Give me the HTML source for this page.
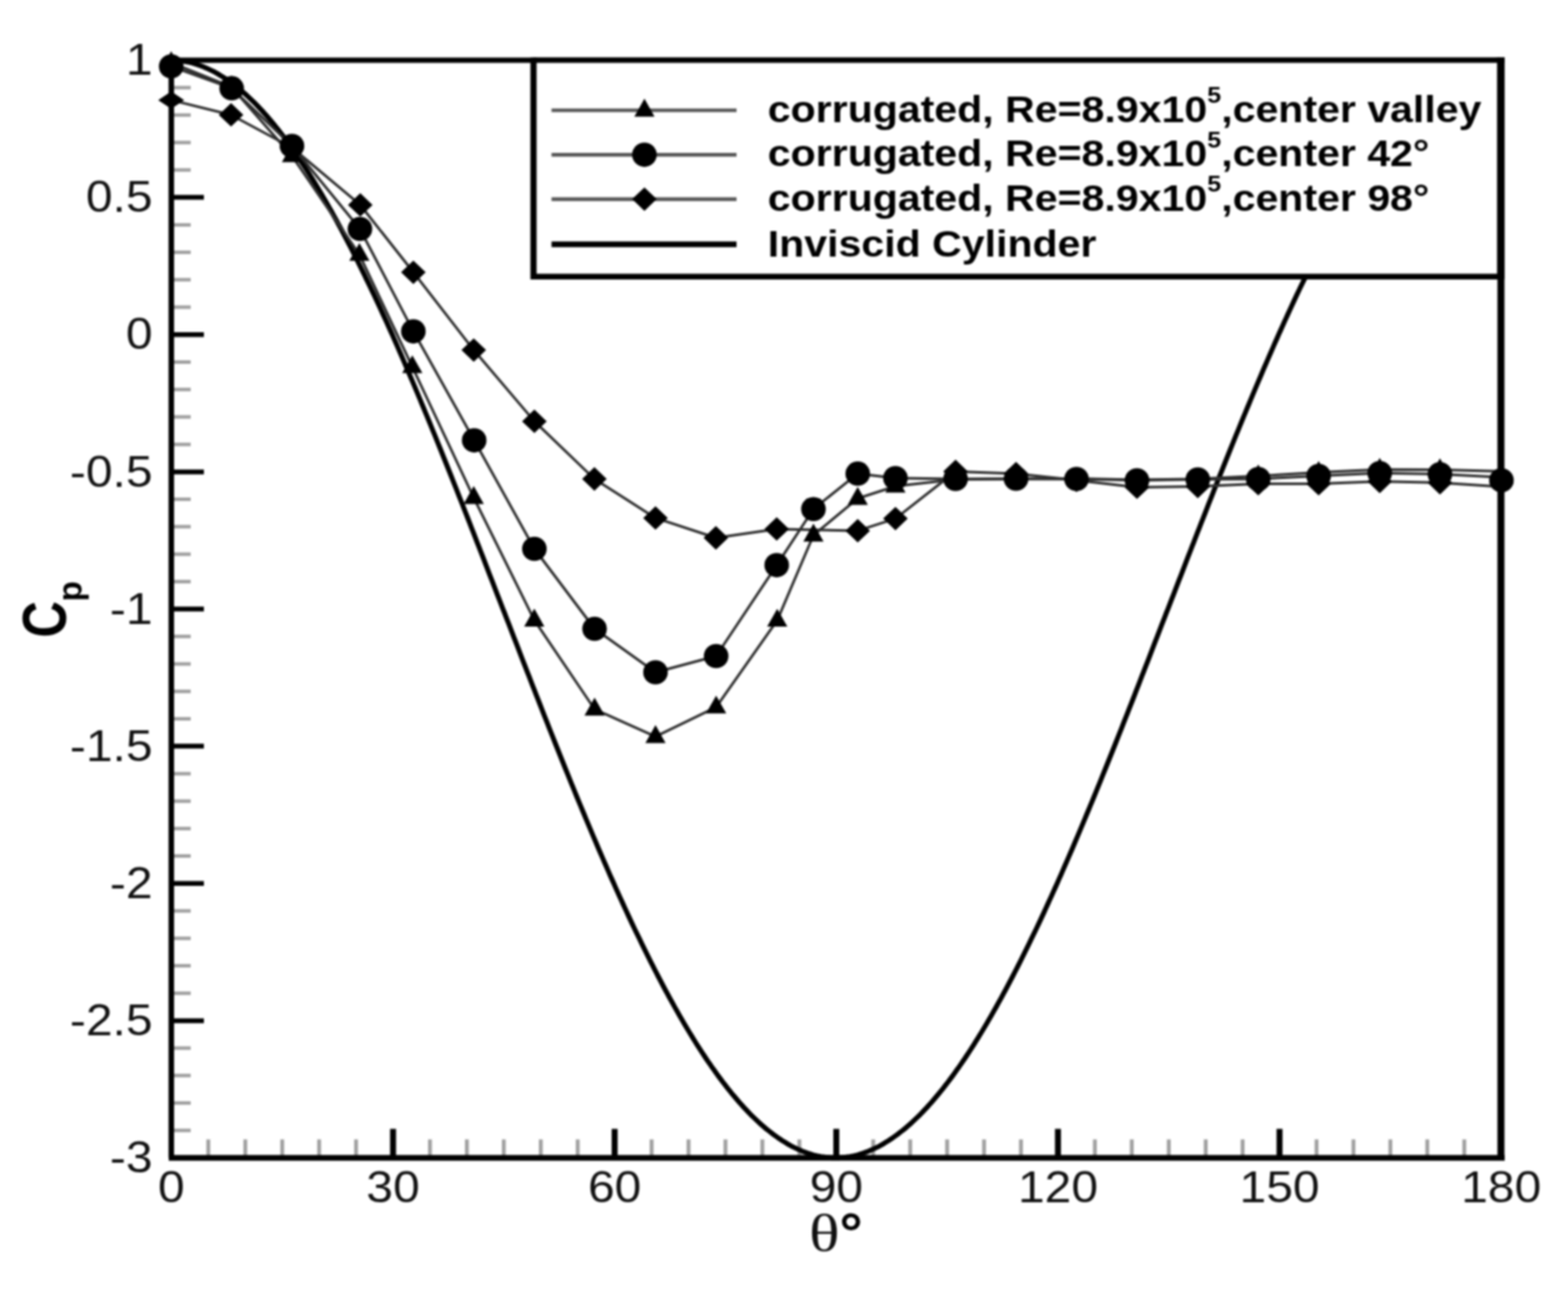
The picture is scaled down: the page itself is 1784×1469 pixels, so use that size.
<!DOCTYPE html>
<html lang="en">
<head>
<meta charset="utf-8">
<title>Cp vs theta</title>
<style>
html,body{margin:0;padding:0;background:#fff;}
body{width:1784px;height:1469px;overflow:hidden;}
svg{display:block;}
text{font-family:"Liberation Sans",sans-serif;fill:#111;}
.lg{font-weight:bold;fill:#000;}
.ttl{font-weight:bold;fill:#000;}
.sym{font-family:"Liberation Serif",serif;}
</style>
</head>
<body>
<svg width="1784" height="1469" viewBox="0 0 1784 1469" role="img" aria-label="Pressure coefficient versus angle for corrugated and inviscid cylinders">
<defs>
<filter id="b" x="-2%" y="-2%" width="104%" height="104%" color-interpolation-filters="sRGB"><feGaussianBlur stdDeviation="1.15"/></filter>
</defs>
<rect width="1784" height="1469" fill="#fff"/>
<g filter="url(#b)">

<g stroke="#a0a0a0" stroke-width="4">
<line x1="195.0" y1="99.7" x2="217.0" y2="99.7"/>
<line x1="195.0" y1="130.9" x2="217.0" y2="130.9"/>
<line x1="195.0" y1="162.2" x2="217.0" y2="162.2"/>
<line x1="195.0" y1="193.4" x2="217.0" y2="193.4"/>
<line x1="195.0" y1="255.9" x2="217.0" y2="255.9"/>
<line x1="195.0" y1="287.1" x2="217.0" y2="287.1"/>
<line x1="195.0" y1="318.3" x2="217.0" y2="318.3"/>
<line x1="195.0" y1="349.5" x2="217.0" y2="349.5"/>
<line x1="195.0" y1="412.0" x2="217.0" y2="412.0"/>
<line x1="195.0" y1="443.2" x2="217.0" y2="443.2"/>
<line x1="195.0" y1="474.4" x2="217.0" y2="474.4"/>
<line x1="195.0" y1="505.7" x2="217.0" y2="505.7"/>
<line x1="195.0" y1="568.1" x2="217.0" y2="568.1"/>
<line x1="195.0" y1="599.3" x2="217.0" y2="599.3"/>
<line x1="195.0" y1="630.6" x2="217.0" y2="630.6"/>
<line x1="195.0" y1="661.8" x2="217.0" y2="661.8"/>
<line x1="195.0" y1="724.2" x2="217.0" y2="724.2"/>
<line x1="195.0" y1="755.5" x2="217.0" y2="755.5"/>
<line x1="195.0" y1="786.7" x2="217.0" y2="786.7"/>
<line x1="195.0" y1="817.9" x2="217.0" y2="817.9"/>
<line x1="195.0" y1="880.4" x2="217.0" y2="880.4"/>
<line x1="195.0" y1="911.6" x2="217.0" y2="911.6"/>
<line x1="195.0" y1="942.8" x2="217.0" y2="942.8"/>
<line x1="195.0" y1="974.0" x2="217.0" y2="974.0"/>
<line x1="195.0" y1="1036.5" x2="217.0" y2="1036.5"/>
<line x1="195.0" y1="1067.7" x2="217.0" y2="1067.7"/>
<line x1="195.0" y1="1098.9" x2="217.0" y2="1098.9"/>
<line x1="195.0" y1="1130.2" x2="217.0" y2="1130.2"/>
<line x1="195.0" y1="1192.6" x2="217.0" y2="1192.6"/>
<line x1="195.0" y1="1223.8" x2="217.0" y2="1223.8"/>
<line x1="195.0" y1="1255.1" x2="217.0" y2="1255.1"/>
<line x1="195.0" y1="1286.3" x2="217.0" y2="1286.3"/>
<line x1="237.0" y1="1317.5" x2="237.0" y2="1296.5" stroke-width="4.4"/>
<line x1="279.1" y1="1317.5" x2="279.1" y2="1296.5" stroke-width="4.4"/>
<line x1="321.1" y1="1317.5" x2="321.1" y2="1296.5" stroke-width="4.4"/>
<line x1="363.1" y1="1317.5" x2="363.1" y2="1296.5" stroke-width="4.4"/>
<line x1="405.1" y1="1317.5" x2="405.1" y2="1296.5" stroke-width="4.4"/>
<line x1="489.2" y1="1317.5" x2="489.2" y2="1296.5" stroke-width="4.4"/>
<line x1="531.2" y1="1317.5" x2="531.2" y2="1296.5" stroke-width="4.4"/>
<line x1="573.2" y1="1317.5" x2="573.2" y2="1296.5" stroke-width="4.4"/>
<line x1="615.3" y1="1317.5" x2="615.3" y2="1296.5" stroke-width="4.4"/>
<line x1="657.3" y1="1317.5" x2="657.3" y2="1296.5" stroke-width="4.4"/>
<line x1="741.4" y1="1317.5" x2="741.4" y2="1296.5" stroke-width="4.4"/>
<line x1="783.4" y1="1317.5" x2="783.4" y2="1296.5" stroke-width="4.4"/>
<line x1="825.4" y1="1317.5" x2="825.4" y2="1296.5" stroke-width="4.4"/>
<line x1="867.4" y1="1317.5" x2="867.4" y2="1296.5" stroke-width="4.4"/>
<line x1="909.5" y1="1317.5" x2="909.5" y2="1296.5" stroke-width="4.4"/>
<line x1="993.5" y1="1317.5" x2="993.5" y2="1296.5" stroke-width="4.4"/>
<line x1="1035.6" y1="1317.5" x2="1035.6" y2="1296.5" stroke-width="4.4"/>
<line x1="1077.6" y1="1317.5" x2="1077.6" y2="1296.5" stroke-width="4.4"/>
<line x1="1119.6" y1="1317.5" x2="1119.6" y2="1296.5" stroke-width="4.4"/>
<line x1="1161.6" y1="1317.5" x2="1161.6" y2="1296.5" stroke-width="4.4"/>
<line x1="1245.7" y1="1317.5" x2="1245.7" y2="1296.5" stroke-width="4.4"/>
<line x1="1287.7" y1="1317.5" x2="1287.7" y2="1296.5" stroke-width="4.4"/>
<line x1="1329.8" y1="1317.5" x2="1329.8" y2="1296.5" stroke-width="4.4"/>
<line x1="1371.8" y1="1317.5" x2="1371.8" y2="1296.5" stroke-width="4.4"/>
<line x1="1413.8" y1="1317.5" x2="1413.8" y2="1296.5" stroke-width="4.4"/>
<line x1="1497.9" y1="1317.5" x2="1497.9" y2="1296.5" stroke-width="4.4"/>
<line x1="1539.9" y1="1317.5" x2="1539.9" y2="1296.5" stroke-width="4.4"/>
<line x1="1581.9" y1="1317.5" x2="1581.9" y2="1296.5" stroke-width="4.4"/>
<line x1="1623.9" y1="1317.5" x2="1623.9" y2="1296.5" stroke-width="4.4"/>
<line x1="1666.0" y1="1317.5" x2="1666.0" y2="1296.5" stroke-width="4.4"/>
</g>
<g stroke="#000" stroke-width="5.5">
<line x1="195.0" y1="224.6" x2="232.0" y2="224.6"/>
<line x1="195.0" y1="380.8" x2="232.0" y2="380.8"/>
<line x1="195.0" y1="536.9" x2="232.0" y2="536.9"/>
<line x1="195.0" y1="693.0" x2="232.0" y2="693.0"/>
<line x1="195.0" y1="849.1" x2="232.0" y2="849.1"/>
<line x1="195.0" y1="1005.2" x2="232.0" y2="1005.2"/>
<line x1="195.0" y1="1161.4" x2="232.0" y2="1161.4"/>
<line x1="447.2" y1="1317.5" x2="447.2" y2="1284.5" stroke-width="6.8"/>
<line x1="699.3" y1="1317.5" x2="699.3" y2="1284.5" stroke-width="6.8"/>
<line x1="951.5" y1="1317.5" x2="951.5" y2="1284.5" stroke-width="6.8"/>
<line x1="1203.7" y1="1317.5" x2="1203.7" y2="1284.5" stroke-width="6.8"/>
<line x1="1455.8" y1="1317.5" x2="1455.8" y2="1284.5" stroke-width="6.8"/>
</g>
<line x1="192.0" y1="68.5" x2="1712.0" y2="68.5" stroke="#000" stroke-width="6"/>
<line x1="192.0" y1="1317.5" x2="1712.0" y2="1317.5" stroke="#000" stroke-width="6.3"/>
<line x1="194.9" y1="68.5" x2="194.9" y2="1317.5" stroke="#000" stroke-width="6.3"/>
<line x1="1707.7" y1="68.5" x2="1707.7" y2="1317.5" stroke="#000" stroke-width="8"/>
<polyline points="194.0,68.5 196.1,68.5 198.2,68.6 200.3,68.7 202.4,68.9 204.5,69.1 206.6,69.4 208.7,69.7 210.8,70.0 212.9,70.4 215.0,70.9 217.1,71.4 219.2,71.9 221.3,72.5 223.4,73.2 225.5,73.8 227.6,74.6 229.7,75.4 231.8,76.2 233.9,77.1 236.0,78.0 238.1,79.0 240.2,80.0 242.3,81.0 244.4,82.1 246.5,83.3 248.6,84.5 250.7,85.8 252.8,87.1 254.9,88.4 257.0,89.8 259.1,91.2 261.2,92.7 263.3,94.2 265.4,95.8 267.5,97.4 269.6,99.1 271.8,100.8 273.9,102.5 276.0,104.3 278.1,106.2 280.2,108.0 282.3,110.0 284.4,112.0 286.5,114.0 288.6,116.0 290.7,118.1 292.8,120.3 294.9,122.5 297.0,124.7 299.1,127.0 301.2,129.3 303.3,131.7 305.4,134.1 307.5,136.6 309.6,139.1 311.7,141.6 313.8,144.2 315.9,146.8 318.0,149.5 320.1,152.2 322.2,154.9 324.3,157.7 326.4,160.5 328.5,163.4 330.6,166.3 332.7,169.3 334.8,172.2 336.9,175.3 339.0,178.3 341.1,181.4 343.2,184.6 345.3,187.8 347.4,191.0 349.5,194.3 351.6,197.6 353.7,200.9 355.8,204.3 357.9,207.7 360.0,211.1 362.1,214.6 364.2,218.1 366.3,221.7 368.4,225.3 370.5,228.9 372.6,232.6 374.7,236.3 376.8,240.0 378.9,243.8 381.0,247.6 383.1,251.4 385.2,255.3 387.3,259.2 389.4,263.1 391.5,267.1 393.6,271.1 395.7,275.1 397.8,279.2 399.9,283.3 402.0,287.4 404.1,291.6 406.2,295.8 408.3,300.0 410.4,304.2 412.5,308.5 414.6,312.8 416.7,317.2 418.8,321.5 420.9,325.9 423.1,330.4 425.2,334.8 427.3,339.3 429.4,343.8 431.5,348.3 433.6,352.9 435.7,357.5 437.8,362.1 439.9,366.7 442.0,371.4 444.1,376.0 446.2,380.7 448.3,385.5 450.4,390.2 452.5,395.0 454.6,399.8 456.7,404.6 458.8,409.5 460.9,414.3 463.0,419.2 465.1,424.1 467.2,429.1 469.3,434.0 471.4,439.0 473.5,444.0 475.6,449.0 477.7,454.0 479.8,459.1 481.9,464.1 484.0,469.2 486.1,474.3 488.2,479.4 490.3,484.5 492.4,489.7 494.5,494.8 496.6,500.0 498.7,505.2 500.8,510.4 502.9,515.6 505.0,520.9 507.1,526.1 509.2,531.4 511.3,536.6 513.4,541.9 515.5,547.2 517.6,552.5 519.7,557.8 521.8,563.2 523.9,568.5 526.0,573.8 528.1,579.2 530.2,584.6 532.3,589.9 534.4,595.3 536.5,600.7 538.6,606.1 540.7,611.5 542.8,616.9 544.9,622.3 547.0,627.7 549.1,633.1 551.2,638.6 553.3,644.0 555.4,649.4 557.5,654.9 559.6,660.3 561.7,665.8 563.8,671.2 565.9,676.7 568.0,682.1 570.1,687.6 572.2,693.0 574.4,698.4 576.5,703.9 578.6,709.3 580.7,714.8 582.8,720.2 584.9,725.7 587.0,731.1 589.1,736.6 591.2,742.0 593.3,747.4 595.4,752.9 597.5,758.3 599.6,763.7 601.7,769.1 603.8,774.5 605.9,779.9 608.0,785.3 610.1,790.7 612.2,796.1 614.3,801.4 616.4,806.8 618.5,812.2 620.6,817.5 622.7,822.8 624.8,828.2 626.9,833.5 629.0,838.8 631.1,844.1 633.2,849.4 635.3,854.6 637.4,859.9 639.5,865.1 641.6,870.4 643.7,875.6 645.8,880.8 647.9,886.0 650.0,891.2 652.1,896.3 654.2,901.5 656.3,906.6 658.4,911.7 660.5,916.8 662.6,921.9 664.7,926.9 666.8,932.0 668.9,937.0 671.0,942.0 673.1,947.0 675.2,952.0 677.3,956.9 679.4,961.9 681.5,966.8 683.6,971.7 685.7,976.5 687.8,981.4 689.9,986.2 692.0,991.0 694.1,995.8 696.2,1000.5 698.3,1005.2 700.4,1010.0 702.5,1014.6 704.6,1019.3 706.7,1023.9 708.8,1028.5 710.9,1033.1 713.0,1037.7 715.1,1042.2 717.2,1046.7 719.3,1051.2 721.4,1055.6 723.5,1060.1 725.7,1064.5 727.8,1068.8 729.9,1073.2 732.0,1077.5 734.1,1081.8 736.2,1086.0 738.3,1090.2 740.4,1094.4 742.5,1098.6 744.6,1102.7 746.7,1106.8 748.8,1110.9 750.9,1114.9 753.0,1118.9 755.1,1122.9 757.2,1126.8 759.3,1130.7 761.4,1134.6 763.5,1138.4 765.6,1142.2 767.7,1146.0 769.8,1149.7 771.9,1153.4 774.0,1157.1 776.1,1160.7 778.2,1164.3 780.3,1167.9 782.4,1171.4 784.5,1174.9 786.6,1178.3 788.7,1181.7 790.8,1185.1 792.9,1188.4 795.0,1191.7 797.1,1195.0 799.2,1198.2 801.3,1201.4 803.4,1204.6 805.5,1207.7 807.6,1210.7 809.7,1213.8 811.8,1216.7 813.9,1219.7 816.0,1222.6 818.1,1225.5 820.2,1228.3 822.3,1231.1 824.4,1233.8 826.5,1236.5 828.6,1239.2 830.7,1241.8 832.8,1244.4 834.9,1246.9 837.0,1249.4 839.1,1251.9 841.2,1254.3 843.3,1256.7 845.4,1259.0 847.5,1261.3 849.6,1263.5 851.7,1265.7 853.8,1267.9 855.9,1270.0 858.0,1272.0 860.1,1274.0 862.2,1276.0 864.3,1278.0 866.4,1279.8 868.5,1281.7 870.6,1283.5 872.7,1285.2 874.9,1286.9 877.0,1288.6 879.1,1290.2 881.2,1291.8 883.3,1293.3 885.4,1294.8 887.5,1296.2 889.6,1297.6 891.7,1298.9 893.8,1300.2 895.9,1301.5 898.0,1302.7 900.1,1303.9 902.2,1305.0 904.3,1306.0 906.4,1307.0 908.5,1308.0 910.6,1308.9 912.7,1309.8 914.8,1310.6 916.9,1311.4 919.0,1312.2 921.1,1312.8 923.2,1313.5 925.3,1314.1 927.4,1314.6 929.5,1315.1 931.6,1315.6 933.7,1316.0 935.8,1316.3 937.9,1316.6 940.0,1316.9 942.1,1317.1 944.2,1317.3 946.3,1317.4 948.4,1317.5 950.5,1317.5 952.6,1317.5 954.7,1317.4 956.8,1317.3 958.9,1317.1 961.0,1316.9 963.1,1316.6 965.2,1316.3 967.3,1316.0 969.4,1315.6 971.5,1315.1 973.6,1314.6 975.7,1314.1 977.8,1313.5 979.9,1312.8 982.0,1312.2 984.1,1311.4 986.2,1310.6 988.3,1309.8 990.4,1308.9 992.5,1308.0 994.6,1307.0 996.7,1306.0 998.8,1305.0 1000.9,1303.9 1003.0,1302.7 1005.1,1301.5 1007.2,1300.2 1009.3,1298.9 1011.4,1297.6 1013.5,1296.2 1015.6,1294.8 1017.7,1293.3 1019.8,1291.8 1021.9,1290.2 1024.0,1288.6 1026.2,1286.9 1028.3,1285.2 1030.4,1283.5 1032.5,1281.7 1034.6,1279.8 1036.7,1278.0 1038.8,1276.0 1040.9,1274.0 1043.0,1272.0 1045.1,1270.0 1047.2,1267.9 1049.3,1265.7 1051.4,1263.5 1053.5,1261.3 1055.6,1259.0 1057.7,1256.7 1059.8,1254.3 1061.9,1251.9 1064.0,1249.4 1066.1,1246.9 1068.2,1244.4 1070.3,1241.8 1072.4,1239.2 1074.5,1236.5 1076.6,1233.8 1078.7,1231.1 1080.8,1228.3 1082.9,1225.5 1085.0,1222.6 1087.1,1219.7 1089.2,1216.7 1091.3,1213.8 1093.4,1210.7 1095.5,1207.7 1097.6,1204.6 1099.7,1201.4 1101.8,1198.2 1103.9,1195.0 1106.0,1191.7 1108.1,1188.4 1110.2,1185.1 1112.3,1181.7 1114.4,1178.3 1116.5,1174.9 1118.6,1171.4 1120.7,1167.9 1122.8,1164.3 1124.9,1160.7 1127.0,1157.1 1129.1,1153.4 1131.2,1149.7 1133.3,1146.0 1135.4,1142.2 1137.5,1138.4 1139.6,1134.6 1141.7,1130.7 1143.8,1126.8 1145.9,1122.9 1148.0,1118.9 1150.1,1114.9 1152.2,1110.9 1154.3,1106.8 1156.4,1102.7 1158.5,1098.6 1160.6,1094.4 1162.7,1090.2 1164.8,1086.0 1166.9,1081.8 1169.0,1077.5 1171.1,1073.2 1173.2,1068.8 1175.3,1064.5 1177.5,1060.1 1179.6,1055.6 1181.7,1051.2 1183.8,1046.7 1185.9,1042.2 1188.0,1037.7 1190.1,1033.1 1192.2,1028.5 1194.3,1023.9 1196.4,1019.3 1198.5,1014.6 1200.6,1010.0 1202.7,1005.3 1204.8,1000.5 1206.9,995.8 1209.0,991.0 1211.1,986.2 1213.2,981.4 1215.3,976.5 1217.4,971.7 1219.5,966.8 1221.6,961.9 1223.7,956.9 1225.8,952.0 1227.9,947.0 1230.0,942.0 1232.1,937.0 1234.2,932.0 1236.3,926.9 1238.4,921.9 1240.5,916.8 1242.6,911.7 1244.7,906.6 1246.8,901.5 1248.9,896.3 1251.0,891.2 1253.1,886.0 1255.2,880.8 1257.3,875.6 1259.4,870.4 1261.5,865.1 1263.6,859.9 1265.7,854.6 1267.8,849.4 1269.9,844.1 1272.0,838.8 1274.1,833.5 1276.2,828.2 1278.3,822.8 1280.4,817.5 1282.5,812.2 1284.6,806.8 1286.7,801.4 1288.8,796.1 1290.9,790.7 1293.0,785.3 1295.1,779.9 1297.2,774.5 1299.3,769.1 1301.4,763.7 1303.5,758.3 1305.6,752.9 1307.7,747.4 1309.8,742.0 1311.9,736.6 1314.0,731.1 1316.1,725.7 1318.2,720.2 1320.3,714.8 1322.4,709.3 1324.5,703.9 1326.6,698.4 1328.8,693.0 1330.9,687.6 1333.0,682.1 1335.1,676.7 1337.2,671.2 1339.3,665.8 1341.4,660.3 1343.5,654.9 1345.6,649.4 1347.7,644.0 1349.8,638.6 1351.9,633.1 1354.0,627.7 1356.1,622.3 1358.2,616.9 1360.3,611.5 1362.4,606.1 1364.5,600.7 1366.6,595.3 1368.7,589.9 1370.8,584.6 1372.9,579.2 1375.0,573.8 1377.1,568.5 1379.2,563.2 1381.3,557.8 1383.4,552.5 1385.5,547.2 1387.6,541.9 1389.7,536.6 1391.8,531.4 1393.9,526.1 1396.0,520.9 1398.1,515.6 1400.2,510.4 1402.3,505.2 1404.4,500.0 1406.5,494.8 1408.6,489.7 1410.7,484.5 1412.8,479.4 1414.9,474.3 1417.0,469.2 1419.1,464.1 1421.2,459.1 1423.3,454.0 1425.4,449.0 1427.5,444.0 1429.6,439.0 1431.7,434.0 1433.8,429.1 1435.9,424.1 1438.0,419.2 1440.1,414.3 1442.2,409.5 1444.3,404.6 1446.4,399.8 1448.5,395.0 1450.6,390.2 1452.7,385.5 1454.8,380.7 1456.9,376.0 1459.0,371.4 1461.1,366.7 1463.2,362.1 1465.3,357.5 1467.4,352.9 1469.5,348.3 1471.6,343.8 1473.7,339.3 1475.8,334.8 1477.9,330.4 1480.0,325.9 1482.2,321.5 1484.3,317.2 1486.4,312.8 1488.5,308.5 1490.6,304.2 1492.7,300.0 1494.8,295.8 1496.9,291.6 1499.0,287.4 1501.1,283.3 1503.2,279.2 1505.3,275.1 1507.4,271.1 1509.5,267.1 1511.6,263.1 1513.7,259.2 1515.8,255.3 1517.9,251.4 1520.0,247.6 1522.1,243.8 1524.2,240.0 1526.3,236.3 1528.4,232.6 1530.5,228.9 1532.6,225.3 1534.7,221.7 1536.8,218.1 1538.9,214.6 1541.0,211.1 1543.1,207.7 1545.2,204.3 1547.3,200.9 1549.4,197.6 1551.5,194.3 1553.6,191.0 1555.7,187.8 1557.8,184.6 1559.9,181.4 1562.0,178.3 1564.1,175.3 1566.2,172.2 1568.3,169.3 1570.4,166.3 1572.5,163.4 1574.6,160.5 1576.7,157.7 1578.8,154.9 1580.9,152.2 1583.0,149.5 1585.1,146.8 1587.2,144.2 1589.3,141.6 1591.4,139.1 1593.5,136.6 1595.6,134.1 1597.7,131.7 1599.8,129.3 1601.9,127.0 1604.0,124.7 1606.1,122.5 1608.2,120.3 1610.3,118.1 1612.4,116.0 1614.5,114.0 1616.6,112.0 1618.7,110.0 1620.8,108.0 1622.9,106.2 1625.0,104.3 1627.1,102.5 1629.2,100.8 1631.3,99.1 1633.5,97.4 1635.6,95.8 1637.7,94.2 1639.8,92.7 1641.9,91.2 1644.0,89.8 1646.1,88.4 1648.2,87.1 1650.3,85.8 1652.4,84.5 1654.5,83.3 1656.6,82.1 1658.7,81.0 1660.8,80.0 1662.9,79.0 1665.0,78.0 1667.1,77.1 1669.2,76.2 1671.3,75.4 1673.4,74.6 1675.5,73.8 1677.6,73.2 1679.7,72.5 1681.8,71.9 1683.9,71.4 1686.0,70.9 1688.1,70.4 1690.2,70.0 1692.3,69.7 1694.4,69.4 1696.5,69.1 1698.6,68.9 1700.7,68.7 1702.8,68.6 1704.9,68.5 1707.0,68.5" fill="none" stroke="#000" stroke-width="5.6" stroke-linejoin="round"/>
<polyline points="194.8,71.5 263.3,99.0 332.2,177.4 408.9,289.6 469.1,417.4 539.0,566.3 607.9,705.7 676.5,807.0 745.8,838.2 814.8,804.6 884.3,705.9 925.5,609.0 975.9,567.2 1018.8,553.3 1087.2,545.5 1156.0,545.0 1224.8,544.5 1293.6,546.0 1362.8,545.0 1431.6,541.6 1500.3,537.6 1569.8,534.3 1638.3,534.6 1708.3,536.3" fill="none" stroke="#2e2e2e" stroke-width="3.0" stroke-linejoin="round"/>
<polyline points="194.8,75.5 263.6,100.4 332.2,166.0 409.5,260.5 470.3,377.1 539.5,501.1 608.0,624.5 676.5,715.5 745.8,765.0 814.8,746.5 883.7,643.1 925.5,579.2 975.9,538.9 1018.8,544.0 1087.2,545.0 1156.0,544.8 1224.8,545.0 1293.6,546.5 1362.8,545.5 1431.6,545.0 1500.3,541.5 1569.8,538.3 1638.3,539.5 1708.3,543.0" fill="none" stroke="#2e2e2e" stroke-width="3.0" stroke-linejoin="round"/>
<polyline points="194.8,113.9 262.9,130.7 332.2,168.0 409.9,233.2 470.3,309.8 539.0,398.3 608.0,479.4 676.3,545.0 745.8,589.4 814.5,612.0 883.7,601.9 975.9,603.9 1018.8,590.1 1087.2,536.5 1156.0,539.0 1224.8,546.5 1293.6,554.4 1362.8,553.5 1431.6,550.4 1500.3,550.4 1569.8,547.8 1638.3,549.3 1708.3,554.0" fill="none" stroke="#2e2e2e" stroke-width="3.0" stroke-linejoin="round"/>
<g fill="#000">
<polygon points="183.3,78.7 194.8,58.3 206.3,78.7"/>
<polygon points="251.8,106.2 263.3,85.8 274.8,106.2"/>
<polygon points="320.7,184.6 332.2,164.2 343.7,184.6"/>
<polygon points="397.4,296.8 408.9,276.4 420.4,296.8"/>
<polygon points="457.6,424.6 469.1,404.2 480.6,424.6"/>
<polygon points="527.5,573.5 539.0,553.1 550.5,573.5"/>
<polygon points="596.4,712.9 607.9,692.5 619.4,712.9"/>
<polygon points="665.0,814.2 676.5,793.8 688.0,814.2"/>
<polygon points="734.3,845.4 745.8,825.0 757.3,845.4"/>
<polygon points="803.3,811.8 814.8,791.4 826.3,811.8"/>
<polygon points="872.8,713.1 884.3,692.7 895.8,713.1"/>
<polygon points="914.0,616.2 925.5,595.8 937.0,616.2"/>
<polygon points="964.4,574.4 975.9,554.0 987.4,574.4"/>
<polygon points="1007.3,560.5 1018.8,540.1 1030.3,560.5"/>
<polygon points="1075.7,552.7 1087.2,532.3 1098.7,552.7"/>
<polygon points="1144.5,552.2 1156.0,531.8 1167.5,552.2"/>
<polygon points="1213.3,551.7 1224.8,531.3 1236.3,551.7"/>
<polygon points="1282.1,553.2 1293.6,532.8 1305.1,553.2"/>
<polygon points="1351.3,552.2 1362.8,531.8 1374.3,552.2"/>
<polygon points="1420.1,548.8 1431.6,528.4 1443.1,548.8"/>
<polygon points="1488.8,544.8 1500.3,524.4 1511.8,544.8"/>
<polygon points="1558.3,541.5 1569.8,521.1 1581.3,541.5"/>
<polygon points="1626.8,541.8 1638.3,521.4 1649.8,541.8"/>
<polygon points="1696.8,554.2 1708.3,533.8 1719.8,554.2"/>
<ellipse cx="194.8" cy="75.5" rx="14.0" ry="13.8"/>
<ellipse cx="263.6" cy="100.4" rx="14.0" ry="13.8"/>
<ellipse cx="332.2" cy="166.0" rx="14.0" ry="13.8"/>
<ellipse cx="409.5" cy="260.5" rx="14.0" ry="13.8"/>
<ellipse cx="470.3" cy="377.1" rx="14.0" ry="13.8"/>
<ellipse cx="539.5" cy="501.1" rx="14.0" ry="13.8"/>
<ellipse cx="608.0" cy="624.5" rx="14.0" ry="13.8"/>
<ellipse cx="676.5" cy="715.5" rx="14.0" ry="13.8"/>
<ellipse cx="745.8" cy="765.0" rx="14.0" ry="13.8"/>
<ellipse cx="814.8" cy="746.5" rx="14.0" ry="13.8"/>
<ellipse cx="883.7" cy="643.1" rx="14.0" ry="13.8"/>
<ellipse cx="925.5" cy="579.2" rx="14.0" ry="13.8"/>
<ellipse cx="975.9" cy="538.9" rx="14.0" ry="13.8"/>
<ellipse cx="1018.8" cy="544.0" rx="14.0" ry="13.8"/>
<ellipse cx="1087.2" cy="545.0" rx="14.0" ry="13.8"/>
<ellipse cx="1156.0" cy="544.8" rx="14.0" ry="13.8"/>
<ellipse cx="1224.8" cy="545.0" rx="14.0" ry="13.8"/>
<ellipse cx="1293.6" cy="546.5" rx="14.0" ry="13.8"/>
<ellipse cx="1362.8" cy="545.5" rx="14.0" ry="13.8"/>
<ellipse cx="1431.6" cy="545.0" rx="14.0" ry="13.8"/>
<ellipse cx="1500.3" cy="541.5" rx="14.0" ry="13.8"/>
<ellipse cx="1569.8" cy="538.3" rx="14.0" ry="13.8"/>
<ellipse cx="1638.3" cy="539.5" rx="14.0" ry="13.8"/>
<ellipse cx="1708.3" cy="546.5" rx="14.0" ry="13.8"/>
<polygon points="180.0,113.9 194.8,104.1 209.6,113.9 194.8,123.7"/>
<polygon points="248.9,130.7 262.9,117.3 276.9,130.7 262.9,144.1"/>
<polygon points="318.2,168.0 332.2,154.6 346.2,168.0 332.2,181.4"/>
<polygon points="395.9,233.2 409.9,219.8 423.9,233.2 409.9,246.6"/>
<polygon points="456.3,309.8 470.3,296.4 484.3,309.8 470.3,323.2"/>
<polygon points="525.0,398.3 539.0,384.9 553.0,398.3 539.0,411.7"/>
<polygon points="594.0,479.4 608.0,466.0 622.0,479.4 608.0,492.8"/>
<polygon points="662.3,545.0 676.3,531.6 690.3,545.0 676.3,558.4"/>
<polygon points="731.8,589.4 745.8,576.0 759.8,589.4 745.8,602.8"/>
<polygon points="800.5,612.0 814.5,598.6 828.5,612.0 814.5,625.4"/>
<polygon points="869.7,601.9 883.7,588.5 897.7,601.9 883.7,615.3"/>
<polygon points="961.9,603.9 975.9,590.5 989.9,603.9 975.9,617.3"/>
<polygon points="1004.8,590.1 1018.8,576.7 1032.8,590.1 1018.8,603.5"/>
<polygon points="1073.2,536.5 1087.2,523.1 1101.2,536.5 1087.2,549.9"/>
<polygon points="1142.0,539.0 1156.0,525.6 1170.0,539.0 1156.0,552.4"/>
<polygon points="1210.8,546.5 1224.8,533.1 1238.8,546.5 1224.8,559.9"/>
<polygon points="1279.6,554.4 1293.6,541.0 1307.6,554.4 1293.6,567.8"/>
<polygon points="1348.8,553.5 1362.8,540.1 1376.8,553.5 1362.8,566.9"/>
<polygon points="1417.6,550.4 1431.6,537.0 1445.6,550.4 1431.6,563.8"/>
<polygon points="1486.3,550.4 1500.3,537.0 1514.3,550.4 1500.3,563.8"/>
<polygon points="1555.8,547.8 1569.8,534.4 1583.8,547.8 1569.8,561.2"/>
<polygon points="1624.3,549.3 1638.3,535.9 1652.3,549.3 1638.3,562.7"/>
<polygon points="1694.3,549.8 1708.3,536.4 1722.3,549.8 1708.3,563.2"/>
</g>
<rect x="607.0" y="68.5" width="1101.0" height="246.3" fill="#fff"/>
<line x1="607.0" y1="65.5" x2="607.0" y2="318.0" stroke="#000" stroke-width="7"/>
<line x1="607.0" y1="314.8" x2="1708.0" y2="314.8" stroke="#000" stroke-width="6.4"/>
<line x1="607.0" y1="68.5" x2="1712.0" y2="68.5" stroke="#000" stroke-width="6"/>
<line x1="1707.5" y1="65.5" x2="1707.5" y2="317.8" stroke="#000" stroke-width="8.4"/>
<line x1="627.5" y1="125.5" x2="838" y2="125.5" stroke="#555" stroke-width="4.2"/>
<g fill="#000"><polygon points="721.7,132.7 733.2,112.3 744.7,132.7"/></g>
<line x1="627.5" y1="176.1" x2="838" y2="176.1" stroke="#555" stroke-width="4.2"/>
<g fill="#000"><ellipse cx="733.2" cy="176.1" rx="14.0" ry="13.8"/></g>
<line x1="627.5" y1="226.6" x2="838" y2="226.6" stroke="#555" stroke-width="4.2"/>
<g fill="#000"><polygon points="719.2,226.6 733.2,213.2 747.2,226.6 733.2,240.0"/></g>
<line x1="627.5" y1="278.1" x2="838" y2="278.1" stroke="#000" stroke-width="6.5"/>
<g transform="translate(873.5,138.7) scale(1.1,1)"><text class="lg" font-size="42.5">corrugated, Re=8.9x10<tspan font-size="26" dy="-21.5">5</tspan><tspan dy="21.5">,center valley</tspan></text></g>
<g transform="translate(873.5,189.1) scale(1.1,1)"><text class="lg" font-size="42.5">corrugated, Re=8.9x10<tspan font-size="26" dy="-21.5">5</tspan><tspan dy="21.5">,center 42°</tspan></text></g>
<g transform="translate(873.5,239.9) scale(1.1,1)"><text class="lg" font-size="42.5">corrugated, Re=8.9x10<tspan font-size="26" dy="-21.5">5</tspan><tspan dy="21.5">,center 98°</tspan></text></g>
<g transform="translate(873.5,291.8) scale(1.1,1)"><text class="lg" font-size="42.5">Inviscid Cylinder</text></g>
<g transform="translate(173.5,85.1) scale(1.085,1)"><text class="tl" font-size="50.3" text-anchor="end">1</text></g>
<g transform="translate(173.5,241.2) scale(1.085,1)"><text class="tl" font-size="50.3" text-anchor="end">0.5</text></g>
<g transform="translate(173.5,397.4) scale(1.085,1)"><text class="tl" font-size="50.3" text-anchor="end">0</text></g>
<g transform="translate(173.5,553.5) scale(1.085,1)"><text class="tl" font-size="50.3" text-anchor="end">-0.5</text></g>
<g transform="translate(173.5,709.6) scale(1.085,1)"><text class="tl" font-size="50.3" text-anchor="end">-1</text></g>
<g transform="translate(173.5,865.7) scale(1.085,1)"><text class="tl" font-size="50.3" text-anchor="end">-1.5</text></g>
<g transform="translate(173.5,1021.9) scale(1.085,1)"><text class="tl" font-size="50.3" text-anchor="end">-2</text></g>
<g transform="translate(173.5,1178.0) scale(1.085,1)"><text class="tl" font-size="50.3" text-anchor="end">-2.5</text></g>
<g transform="translate(173.5,1334.1) scale(1.085,1)"><text class="tl" font-size="50.3" text-anchor="end">-3</text></g>
<g transform="translate(195.0,1368.0) scale(1.085,1)"><text class="tl" font-size="50.3" text-anchor="middle">0</text></g>
<g transform="translate(447.2,1368.0) scale(1.085,1)"><text class="tl" font-size="50.3" text-anchor="middle">30</text></g>
<g transform="translate(699.3,1368.0) scale(1.085,1)"><text class="tl" font-size="50.3" text-anchor="middle">60</text></g>
<g transform="translate(951.5,1368.0) scale(1.085,1)"><text class="tl" font-size="50.3" text-anchor="middle">90</text></g>
<g transform="translate(1203.7,1368.0) scale(1.085,1)"><text class="tl" font-size="50.3" text-anchor="middle">120</text></g>
<g transform="translate(1455.8,1368.0) scale(1.085,1)"><text class="tl" font-size="50.3" text-anchor="middle">150</text></g>
<g transform="translate(1708.0,1368.0) scale(1.085,1)"><text class="tl" font-size="50.3" text-anchor="middle">180</text></g>
<g transform="translate(75,725.5) rotate(-90) scale(0.86,1.06)"><text class="ttl" font-size="67">C</text></g>
<g transform="translate(93,684.4) rotate(-90)"><text class="ttl" font-size="38">p</text></g>
<g transform="translate(937.9,1422.5) scale(1.23,1)"><text class="sym" font-size="59" text-anchor="middle">θ</text></g>
<g transform="translate(968.2,1424.5) scale(1.055,1)"><text class="ttl" font-size="63" text-anchor="middle">°</text></g>
</g>
</svg>
</body>
</html>
